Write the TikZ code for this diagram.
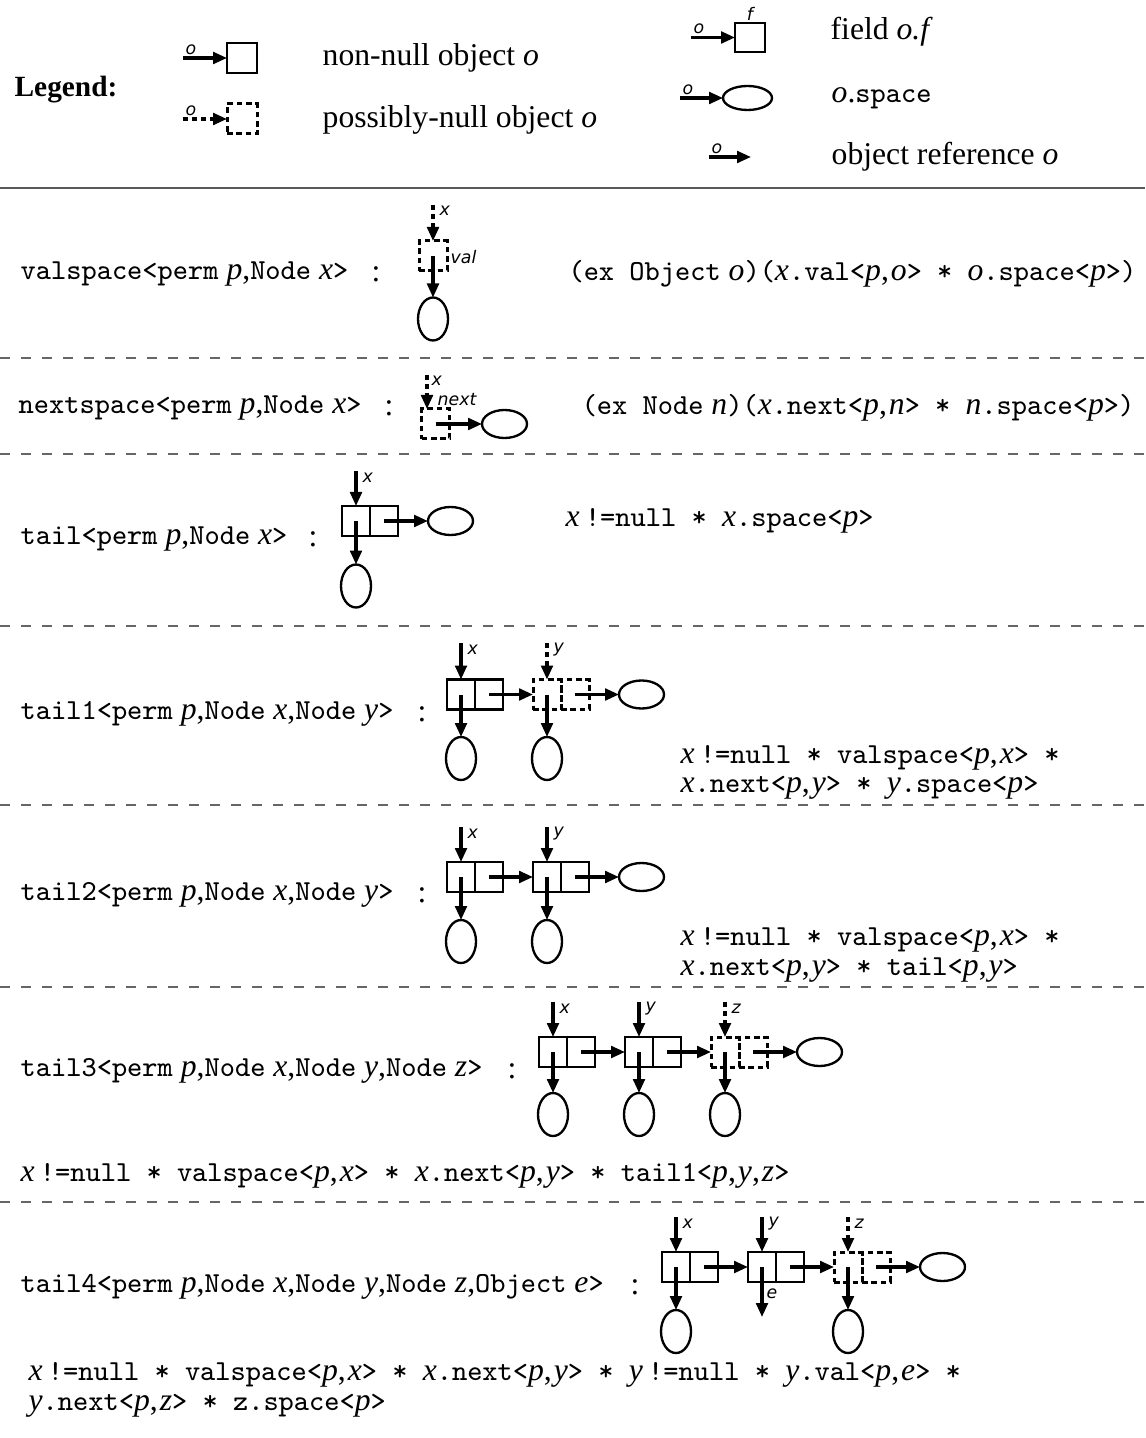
\documentclass[tikz,border=0pt]{standalone}
\usepackage{fontspec}
\setmainfont{Liberation Serif}
\newfontfamily\lblfam{DejaVu Sans}
\usetikzlibrary{arrows.meta,shapes.geometric}
\newcommand\tx[1]{{\fontsize{8.7pt}{10pt}\selectfont\ttfamily #1}}
\newcommand\mi[1]{\textit{#1}}
\newcommand\cma{,\kern0.6pt}
\begin{document}
\begin{tikzpicture}[x=0.3pt,y=-0.3pt,
  ref/.style={line width=0.95pt,-{Triangle[length=4.2pt,width=3.5pt]}},
  nref/.style={ref,dash pattern=on 1.6pt off 1.1pt},
  cell/.style={draw,line width=0.7pt,minimum width=8.4pt,minimum height=9pt,inner sep=0pt,outer sep=0pt},
  ncell/.style={cell,line width=0.9pt,dash pattern=on 1.7pt off 1.1pt},
  vsp/.style={draw,ellipse,line width=0.7pt,minimum width=9pt,minimum height=12.9pt,inner sep=0pt,outer sep=0pt},
  hsp/.style={draw,ellipse,line width=0.7pt,minimum width=13.5pt,minimum height=8.4pt,inner sep=0pt,outer sep=0pt},
  lbl/.style={font=\lblfam\itshape\fontsize{5.2pt}{6pt}\selectfont,inner sep=0pt},
  txt/.style={font=\fontsize{9.5pt}{11.5pt}\selectfont,inner sep=0pt},
  sepline/.style={draw=black!60,line width=0.45pt,dash pattern=on 3pt off 3.3pt},
]
\useasboundingbox (0,0) rectangle (1145,1438);

% ---------------- Legend ----------------
\node[anchor=west,inner sep=0pt,font=\bfseries\fontsize{8.8pt}{10pt}\selectfont] (leg) at (14,90) {Legend:};

\node[cell,minimum width=9pt] (L1) at (242,58) {};
\coordinate (L1s) at (183,58);
\draw[ref] (L1s) -- (L1.west);
\node[lbl,anchor=south west] (L1o) at (185,55) {o};
\node[txt,anchor=west] (L1t) at (322,58) {non-null object \mi{o}};

\node[ncell,minimum width=9pt] (L2) at (242,119) {};
\coordinate (L2s) at (183,119);
\draw[nref] (L2s) -- (L2.west);
\node[lbl,anchor=south west] (L2o) at (185,116) {o};
\node[txt,anchor=west] (L2t) at (322,120) {possibly-null object \mi{o}};

\node[cell,minimum width=9pt,minimum height=8.7pt] (L3) at (750,37.5) {};
\coordinate (L3s) at (691,37.5);
\draw[ref] (L3s) -- (L3.west);
\node[lbl,anchor=south west] (L3o) at (693,34.5) {o};
\node[lbl,anchor=south] (L3f) at (750,21) {f};
\node[txt,anchor=west] (L3t) at (830,32) {field \mi{o.f}};

\node[hsp,minimum width=14.7pt,minimum height=7.2pt] (L4) at (747.5,98) {};
\coordinate (L4s) at (680,98);
\draw[ref] (L4s) -- (L4.west);
\node[lbl,anchor=south west] (L4o) at (682,95) {o};
\node[txt,anchor=west] (L4t) at (831,98) {\mi{o}.\tx{space}};

\coordinate (L5s) at (709,157);
\coordinate (L5e) at (751,157);
\draw[ref] (L5s) -- (L5e);
\node[lbl,anchor=south west] (L5o) at (711,154) {o};
\node[txt,anchor=west] (L5t) at (831,157) {object reference \mi{o}};

\draw[draw=black!65,line width=0.6pt] (0,188) -- (1145,188);

% ---------------- valspace ----------------
\node[txt,anchor=west] (vT) at (20,274) {\tx{valspace<perm} \mi{p},\tx{Node} \mi{x}\tx{>}};
\node[txt] (vC) at (376,274) {:};
\node[ncell] (v) at (433,256) {};
\coordinate (vx) at (433,205);
\draw[nref] (vx) -- (v.north);
\node[lbl,anchor=west] (vxl) at (439,211) {x};
\node[lbl,anchor=west] (vvl) at (450,257) {val};
\node[vsp] (ve) at (433,319) {};
\draw[ref] (v.center) -- (ve.north);
\node[txt,anchor=east] (vF) at (1137,274) {\tx{(ex Object} \mi{o}\tx{)(}\mi{x}\tx{.val<}\mi{p}\cma\mi{o}\tx{> * }\mi{o}\tx{.space<}\mi{p}\tx{>)}};

\draw[sepline] (0,358) -- (1145,358);

% ---------------- nextspace ----------------
\node[txt,anchor=west] (nT) at (18,408) {\tx{nextspace<perm} \mi{p},\tx{Node} \mi{x}\tx{>}};
\node[txt] (nC) at (389,408) {:};
\node[ncell] (n) at (435.5,424) {};
\coordinate (nx) at (427,375);
\draw[nref] (nx) -- (nx |- n.north);
\node[lbl,anchor=west] (nxl) at (431,381) {x};
\node[lbl,anchor=west] (nnl) at (437,400) {next};
\node[hsp] (ne) at (504.5,424) {};
\draw[ref] (n.center) -- (ne.west);
\node[txt,anchor=east] (nF) at (1135,408) {\tx{(ex Node} \mi{n}\tx{)(}\mi{x}\tx{.next<}\mi{p}\cma\mi{n}\tx{> * }\mi{n}\tx{.space<}\mi{p}\tx{>)}};

\draw[sepline] (0,454) -- (1145,454);

% ---------------- tail ----------------
\node[txt,anchor=west] (tT) at (20,539) {\tx{tail<perm} \mi{p},\tx{Node} \mi{x}\tx{>}};
\node[txt] (tC) at (313,539) {:};
\node[cell] (ta) at (356,521) {};
\node[cell] (tb) at (384,521) {};
\coordinate (tx) at (356,471);
\draw[ref] (tx) -- (ta.north);
\node[lbl,anchor=west] (txl) at (362,478) {x};
\node[vsp] (td) at (356,586) {};
\draw[ref] (ta.center) -- (td.north);
\node[hsp] (tr) at (450.5,521) {};
\draw[ref] (tb.center) -- (tr.west);
\node[txt,anchor=west] (tF) at (565,521) {\mi{x}\,\tx{!=null * }\mi{x}\tx{.space<}\mi{p}\tx{>}};

\draw[sepline] (0,626) -- (1145,626);

% ---------------- tail1 ----------------
\node[txt,anchor=west] (aT) at (20,714) {\tx{tail1<perm} \mi{p},\tx{Node} \mi{x},\tx{Node} \mi{y}\tx{>}};
\node[txt] (aC) at (422,714) {:};
\node[cell] (a1a) at (461,694.5) {};
\node[cell] (a1b) at (489,694.5) {};
\node[ncell] (a2a) at (547,694.5) {};
\node[ncell] (a2b) at (575,694.5) {};
\coordinate (ax) at (461,643);
\coordinate (ay) at (547,643);
\draw[ref] (ax) -- (a1a.north);
\draw[nref] (ay) -- (a2a.north);
\node[lbl,anchor=west] (axl) at (467,650) {x};
\node[lbl,anchor=west] (ayl) at (553,650) {y};
\node[vsp] (a1d) at (461,758.5) {};
\node[vsp] (a2d) at (547,758.5) {};
\draw[ref] (a1a.center) -- (a1d.north);
\draw[ref] (a2a.center) -- (a2d.north);
\draw[ref] (a1b.center) -- (a2a.west);
\node[hsp] (ar) at (641.5,694.5) {};
\draw[ref] (a2b.center) -- (ar.west);
\node[txt,anchor=west] (aF1) at (680,758) {\mi{x}\,\tx{!=null * valspace<}\mi{p}\cma\mi{x}\tx{> *}};
\node[txt,anchor=west] (aF2) at (680,788) {\mi{x}\tx{.next<}\mi{p}\cma\mi{y}\tx{> * }\mi{y}\tx{.space<}\mi{p}\tx{>}};

\draw[sepline] (0,805) -- (1145,805);

% ---------------- tail2 ----------------
\node[txt,anchor=west] (bT) at (20,895) {\tx{tail2<perm} \mi{p},\tx{Node} \mi{x},\tx{Node} \mi{y}\tx{>}};
\node[txt] (bC) at (422,895) {:};
\node[cell] (b1a) at (461,877) {};
\node[cell] (b1b) at (489,877) {};
\node[cell] (b2a) at (547,877) {};
\node[cell] (b2b) at (575,877) {};
\coordinate (bx) at (461,827);
\coordinate (by) at (547,827);
\draw[ref] (bx) -- (b1a.north);
\draw[ref] (by) -- (b2a.north);
\node[lbl,anchor=west] (bxl) at (467,834) {x};
\node[lbl,anchor=west] (byl) at (553,834) {y};
\node[vsp] (b1d) at (461,941.5) {};
\node[vsp] (b2d) at (547,941.5) {};
\draw[ref] (b1a.center) -- (b1d.north);
\draw[ref] (b2a.center) -- (b2d.north);
\draw[ref] (b1b.center) -- (b2a.west);
\node[hsp] (br) at (641.5,877) {};
\draw[ref] (b2b.center) -- (br.west);
\node[txt,anchor=west] (bF1) at (680,940) {\mi{x}\,\tx{!=null * valspace<}\mi{p}\cma\mi{x}\tx{> *}};
\node[txt,anchor=west] (bF2) at (680,970) {\mi{x}\tx{.next<}\mi{p}\cma\mi{y}\tx{> * tail<}\mi{p}\cma\mi{y}\tx{>}};

\draw[sepline] (0,987) -- (1145,987);

% ---------------- tail3 ----------------
\node[txt,anchor=west] (cT) at (20,1071) {\tx{tail3<perm} \mi{p},\tx{Node} \mi{x},\tx{Node} \mi{y},\tx{Node} \mi{z}\tx{>}};
\node[txt] (cC) at (512,1071) {:};
\node[cell] (c1a) at (553,1052) {};
\node[cell] (c1b) at (581,1052) {};
\node[cell] (c2a) at (639,1052) {};
\node[cell] (c2b) at (667,1052) {};
\node[ncell] (c3a) at (725,1052) {};
\node[ncell] (c3b) at (753,1052) {};
\coordinate (cx) at (553,1002);
\coordinate (cy) at (639,1002);
\coordinate (cz) at (725,1002);
\draw[ref] (cx) -- (c1a.north);
\draw[ref] (cy) -- (c2a.north);
\draw[nref] (cz) -- (c3a.north);
\node[lbl,anchor=west] (cxl) at (559,1009) {x};
\node[lbl,anchor=west] (cyl) at (645,1009) {y};
\node[lbl,anchor=west] (czl) at (731,1009) {z};
\node[vsp] (c1d) at (553,1114.5) {};
\node[vsp] (c2d) at (639,1114.5) {};
\node[vsp] (c3d) at (725,1114.5) {};
\draw[ref] (c1a.center) -- (c1d.north);
\draw[ref] (c2a.center) -- (c2d.north);
\draw[ref] (c3a.center) -- (c3d.north);
\draw[ref] (c1b.center) -- (c2a.west);
\draw[ref] (c2b.center) -- (c3a.west);
\node[hsp] (cr) at (819.5,1052) {};
\draw[ref] (c3b.center) -- (cr.west);
\node[txt,anchor=west] (cF) at (20,1176) {\mi{x}\,\tx{!=null * valspace<}\mi{p}\cma\mi{x}\tx{> * }\mi{x}\tx{.next<}\mi{p}\cma\mi{y}\tx{> * tail1<}\mi{p}\cma\mi{y}\cma\mi{z}\tx{>}};

\draw[sepline] (0,1202) -- (1145,1202);

% ---------------- tail4 ----------------
\node[txt,anchor=west] (dT) at (20,1287) {\tx{tail4<perm} \mi{p},\tx{Node} \mi{x},\tx{Node} \mi{y},\tx{Node} \mi{z},\tx{Object} \mi{e}\tx{>}};
\node[txt] (dC) at (635,1287) {:};
\node[cell] (d1a) at (676,1267) {};
\node[cell] (d1b) at (704,1267) {};
\node[cell] (d2a) at (762,1267) {};
\node[cell] (d2b) at (790,1267) {};
\node[ncell] (d3a) at (848,1267) {};
\node[ncell] (d3b) at (876,1267) {};
\coordinate (dx) at (676,1217);
\coordinate (dy) at (762,1217);
\coordinate (dz) at (848,1217);
\draw[ref] (dx) -- (d1a.north);
\draw[ref] (dy) -- (d2a.north);
\draw[nref] (dz) -- (d3a.north);
\node[lbl,anchor=west] (dxl) at (682,1224) {x};
\node[lbl,anchor=west] (dyl) at (768,1224) {y};
\node[lbl,anchor=west] (dzl) at (854,1224) {z};
\node[vsp] (d1d) at (676,1331.5) {};
\node[vsp] (d3d) at (848,1331.5) {};
\coordinate (de) at (762,1317);
\draw[ref] (d1a.center) -- (d1d.north);
\draw[ref] (d2a.center) -- (de);
\node[lbl,anchor=west] (del) at (766,1294) {e};
\draw[ref] (d3a.center) -- (d3d.north);
\draw[ref] (d1b.center) -- (d2a.west);
\draw[ref] (d2b.center) -- (d3a.west);
\node[hsp] (dr) at (942.5,1267) {};
\draw[ref] (d3b.center) -- (dr.west);
\node[txt,anchor=west] (dF1) at (28,1375) {\mi{x}\,\tx{!=null * valspace<}\mi{p}\cma\mi{x}\tx{> * }\mi{x}\tx{.next<}\mi{p}\cma\mi{y}\tx{> * }\mi{y}\,\tx{!=null * }\mi{y}\tx{.val<}\mi{p}\cma\mi{e}\tx{> *}};
\node[txt,anchor=west] (dF2) at (28,1406) {\mi{y}\tx{.next<}\mi{p}\cma\mi{z}\tx{> * z.space<}\mi{p}\tx{>}};
\end{tikzpicture}
\end{document}
